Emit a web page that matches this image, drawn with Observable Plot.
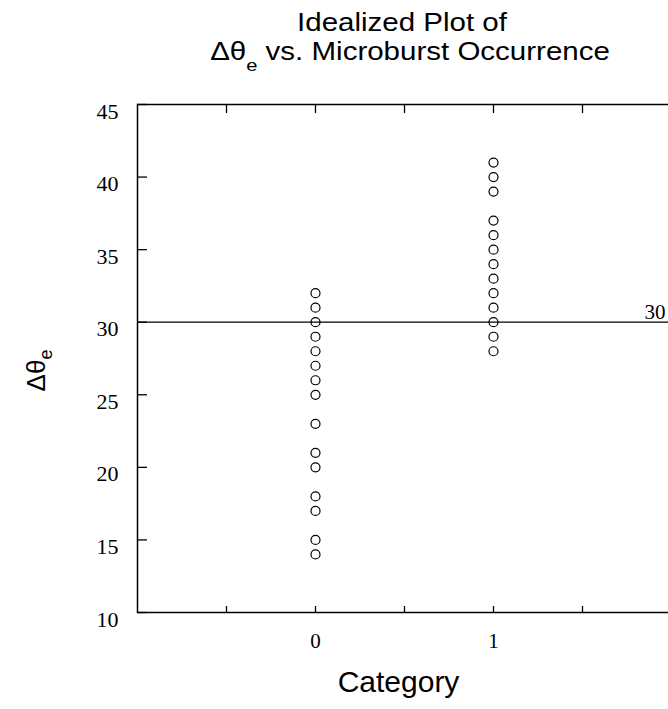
<!DOCTYPE html>
<html>
<head>
<meta charset="utf-8">
<script src="https://cdn.jsdelivr.net/npm/d3@7"></script>
<script src="https://cdn.jsdelivr.net/npm/@observablehq/plot@0.6"></script>
<style>
html, body { margin: 0; padding: 0; background: #fff; overflow: hidden; width: 668px; height: 709px; }
#title { position: relative; height: 85px; font-family: "Liberation Sans", Arial, sans-serif; font-size: 25px; color: #000; }
#title div { position: absolute; white-space: nowrap; line-height: 25px; transform: translateX(-50%) scaleX(1.18); }
#t1 { left: 402px; top: 10px; }
#t2 { left: 410px; top: 39px; }
#t2 sub { font-size: 17px; vertical-align: -11px; line-height: 0; }
#chart svg { display: block; }
</style>
</head>
<body>
<div id="title">
  <div id="t1">Idealized Plot of</div>
  <div id="t2">Δθ<sub>e</sub> vs. Microburst Occurrence</div>
</div>
<div id="chart"></div>
<script>
// Data
const categories = [0, 1];
const category0Values = [32, 31, 30, 29, 28, 27, 26, 25, 23, 21, 20, 18, 17, 15, 14];
const category1Values = [41, 40, 39, 37, 36, 35, 34, 33, 32, 31, 30, 29, 28];
const threshold = 30;
const yTicks = [10, 15, 20, 25, 30, 35, 40, 45];
const xTicks = [-0.5, 0, 0.5, 1, 1.5];
const xTickLabels = ["", "0", "", "1", ""];
const xDomain = [-1, 2];
const yDomain = [10, 45];
const xLabel = "Category";
const yLabel = "Δθe";

const points = [
  ...category0Values.map(v => ({category: categories[0], dtheta: v})),
  ...category1Values.map(v => ({category: categories[1], dtheta: v}))
];

const serif = '"Liberation Serif", "Times New Roman", Times, serif';
const sans = '"Liberation Sans", Arial, Helvetica, sans-serif';

const plot = Plot.plot({
  width: 668,
  height: 624,
  marginTop: 19,
  marginBottom: 97,
  marginLeft: 137,
  marginRight: -3,
  style: {fontFamily: serif, fontSize: "22px", color: "#000", background: "#fff"},
  x: {domain: xDomain},
  y: {domain: yDomain},
  marks: [
    Plot.frame({stroke: "#000", strokeWidth: 1.5}),
    Plot.axisY({ticks: yTicks, tickSize: 0, tickPadding: 19, label: null, fontSize: 22, dy: 7}),
    Plot.axisY({ticks: yTicks, tickSize: -10, text: null, label: null, strokeWidth: 1.3}),
    Plot.axisX({anchor: "bottom", ticks: xTicks, tickSize: -6, tickPadding: 27,
      tickFormat: d => xTickLabels[xTicks.indexOf(d)], label: null, fontSize: 21, strokeWidth: 1.3}),
    Plot.axisX({anchor: "top", ticks: xTicks, tickSize: -8, tickFormat: () => "", label: null, strokeWidth: 1.3}),
    Plot.ruleY([threshold], {stroke: "#000", strokeWidth: 1.3}),
    Plot.text([threshold], {y: d => d, text: d => String(d), frameAnchor: "right", textAnchor: "end",
      dx: -6, dy: -10, fontSize: 21, fontFamily: serif}),
    Plot.dot(points, {x: "category", y: "dtheta", r: 4.5, stroke: "#000", strokeWidth: 1.2, fill: "none"}),
    Plot.text([xLabel], {frameAnchor: "bottom", dx: -6, dy: 79, fontSize: 30, fontFamily: sans}),
    Plot.text([yLabel], {frameAnchor: "left", textAnchor: "middle", dx: -101, dy: 12, rotate: -90, fontSize: 26, fontFamily: sans})
  ]
});

// Subscript for the y label
d3.select(plot).selectAll("text").filter(function() { return this.textContent === yLabel; }).each(function() {
  const t = d3.select(this);
  t.text(null);
  t.append("tspan").text(yLabel.slice(0, 2));
  t.append("tspan").attr("dy", "0.4em").attr("font-size", 18).text(yLabel.slice(2));
});

document.getElementById("chart").appendChild(plot);
</script>
</body>
</html>
